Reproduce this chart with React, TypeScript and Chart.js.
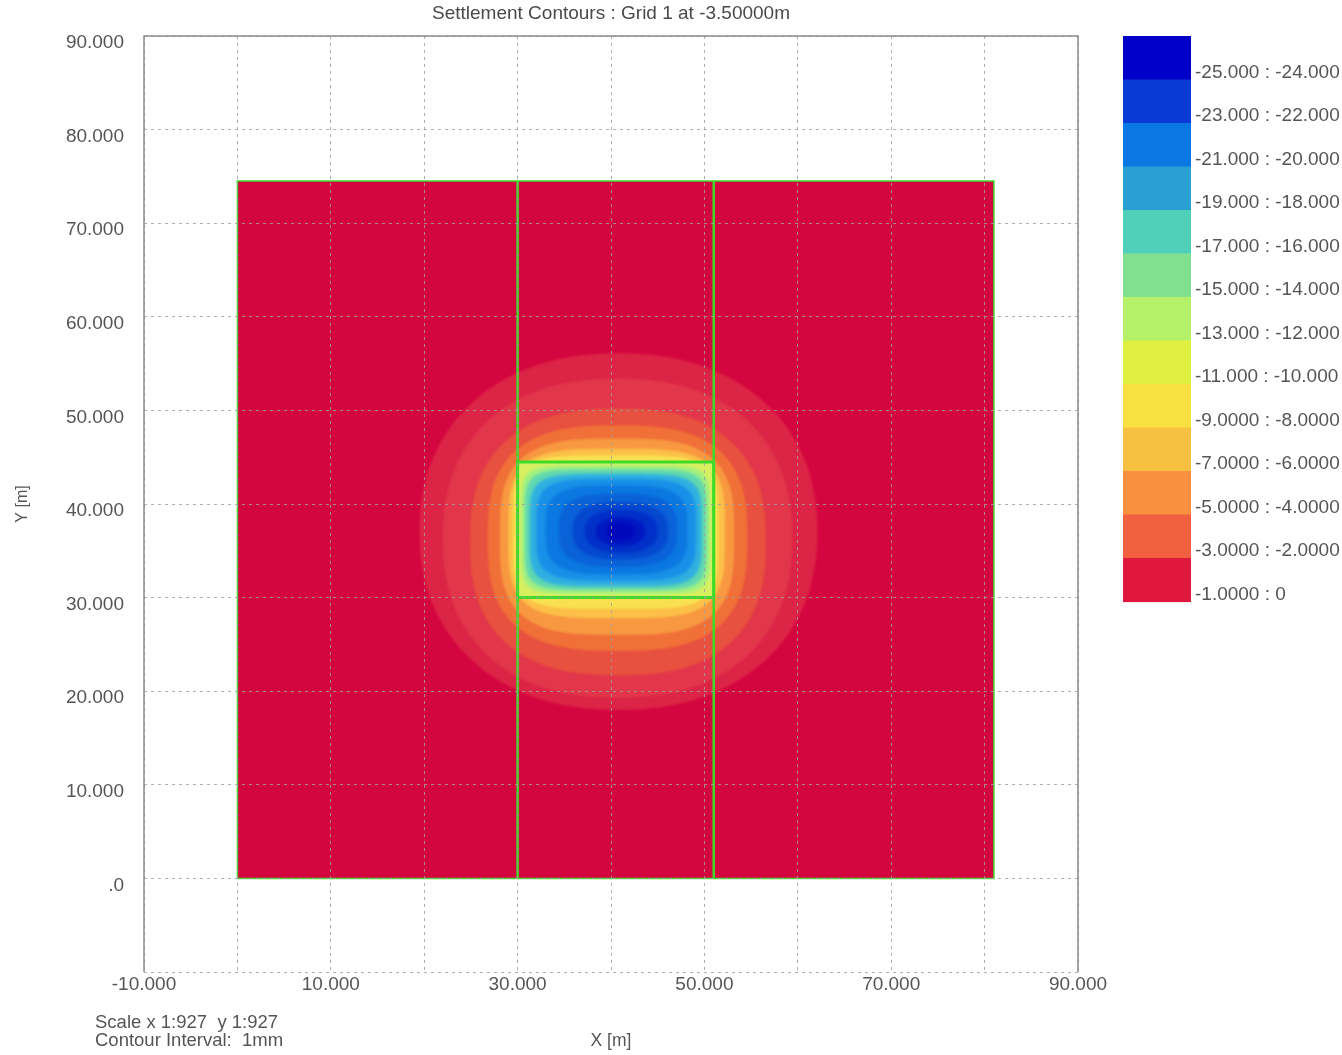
import React, { useEffect, useRef } from 'react';
import { Chart, registerables } from 'chart.js';

Chart.register(...registerables);

// ---------------- data ----------------
const chartTitle = 'Settlement Contours : Grid 1 at -3.50000m';
const xAxisTitle = 'X [m]';
const yAxisTitle = 'Y [m]';

const axisMin = -10;
const axisMax = 90;
const gridStep = 10;

const xTickValues = [-10, 10, 30, 50, 70, 90];
const xTickLabels = ['-10.000', '10.000', '30.000', '50.000', '70.000', '90.000'];
const yTickValues = [0, 10, 20, 30, 40, 50, 60, 70, 80, 90];
const yTickLabels = ['.0', '10.000', '20.000', '30.000', '40.000', '50.000', '60.000', '70.000', '80.000', '90.000'];

// model region, column strip and footing (m)
const regionX = [0, 81];
const regionY = [0, 74.5];
const columnX = [30, 51];
const footingX = [30, 51];
const footingY = [30, 44.5];

// settlement contour bands (mm), outermost first, extents (m)
const contourLevels = [-1, -2, -3, -4, -5, -6, -7, -8, -10, -12, -14, -16, -18, -20, -22, -23, -24, -25];
const contourXMin = [19.5, 22.0, 24.9, 26.8, 28.1, 29.0, 29.5, 30.0, 30.4, 30.8, 31.3, 32.0, 33.0, 34.4, 35.9, 37.2, 38.4, 39.5];
const contourXMax = [62.1, 59.4, 56.6, 54.6, 53.2, 52.2, 51.5, 51.0, 50.6, 50.2, 49.7, 49.1, 48.2, 47.1, 46.1, 45.0, 43.7, 42.6];
const contourYMin = [18.0, 19.3, 21.7, 24.3, 26.0, 27.8, 28.8, 30.0, 30.4, 30.8, 31.2, 31.8, 32.5, 33.3, 34.1, 34.8, 35.5, 36.1];
const contourYMax = [56.1, 53.4, 50.2, 48.4, 47.0, 45.9, 45.2, 44.5, 44.1, 43.7, 43.2, 42.7, 42.0, 41.1, 40.2, 39.4, 38.6, 38.0];
const contourColors = [
  '#dc2446', '#e2364a', '#e8503f', '#f07038', '#f89840', '#fcc048', '#f8e050',
  '#d8f060', '#a0f080', '#60d8b0', '#30b0e0', '#1890e8', '#0a78e0', '#0a62d8',
  '#0548d0', '#0030c8', '#0018c2', '#0008bc',
];
const regionFillColor = '#d4063f';

const legendLabels = [
  '-25.000 : -24.000', '-23.000 : -22.000', '-21.000 : -20.000', '-19.000 : -18.000',
  '-17.000 : -16.000', '-15.000 : -14.000', '-13.000 : -12.000', '-11.000 : -10.000',
  '-9.0000 : -8.0000', '-7.0000 : -6.0000', '-5.0000 : -4.0000', '-3.0000 : -2.0000',
  '-1.0000 : 0',
];
const legendColors = [
  '#0000c8', '#0a3ad6', '#0a78e2', '#2aa0d2', '#50d0b8', '#80e090', '#b4f068',
  '#e0f040', '#f8e040', '#f8c040', '#f89040', '#f06040', '#e01840',
];

const footnotes = ['Scale x 1:927  y 1:927', 'Contour Interval:  1mm'];

// ---------------- styles ----------------
const FONT = "'Liberation Sans', Arial, sans-serif";
const TEXT = '#555555';
const GREEN = '#3cdc28';
const FRAME = '#8c8c8c';
const contourShape = [2.2, 2.3, 2.5, 2.8, 3.2, 3.8, 4.6, 40, 7, 6, 5, 4.2, 3.5, 3.0, 2.6, 2.4, 2.2, 2.1];

function traceSuperellipse(ctx: CanvasRenderingContext2D, cx: number, cy: number, a: number, b: number, n: number) {
  const steps = 240;
  ctx.beginPath();
  for (let k = 0; k <= steps; k++) {
    const t = (k / steps) * Math.PI * 2;
    const c = Math.cos(t);
    const s = Math.sin(t);
    const px = cx + a * Math.sign(c) * Math.pow(Math.abs(c), 2 / n);
    const py = cy + b * Math.sign(s) * Math.pow(Math.abs(s), 2 / n);
    if (k === 0) ctx.moveTo(px, py);
    else ctx.lineTo(px, py);
  }
  ctx.closePath();
}

const contourPlugin = {
  id: 'contourField',
  beforeDatasetsDraw(chart: any) {
    const { ctx } = chart;
    const xs = chart.scales.x;
    const ys = chart.scales.y;
    const px = (v: number) => xs.getPixelForValue(v);
    const py = (v: number) => ys.getPixelForValue(v);
    ctx.save();
    const rx0 = px(regionX[0]);
    const rx1 = px(regionX[1]);
    const ry0 = py(regionY[1]);
    const ry1 = py(regionY[0]);
    ctx.beginPath();
    ctx.rect(rx0, ry0, rx1 - rx0, ry1 - ry0);
    ctx.fillStyle = regionFillColor;
    ctx.fill();
    ctx.clip();

    const fx0 = px(footingX[0]);
    const fx1 = px(footingX[1]);
    const fy0 = py(footingY[1]);
    const fy1 = py(footingY[0]);

    contourLevels.forEach((_lvl, i) => {
      const x0 = px(contourXMin[i]);
      const x1 = px(contourXMax[i]);
      const y0 = py(contourYMax[i]);
      const y1 = py(contourYMin[i]);
      const inside = contourXMin[i] >= footingX[0] && contourXMax[i] <= footingX[1] &&
        contourYMin[i] >= footingY[0] && contourYMax[i] <= footingY[1];
      ctx.save();
      if (inside) {
        ctx.beginPath();
        ctx.rect(fx0, fy0, fx1 - fx0, fy1 - fy0);
        ctx.clip();
        ctx.filter = i === 7 ? 'none' : 'blur(1.6px)';
      } else {
        ctx.filter = 'blur(1.2px)';
      }
      traceSuperellipse(ctx, (x0 + x1) / 2, (y0 + y1) / 2, (x1 - x0) / 2, (y1 - y0) / 2, contourShape[i]);
      ctx.fillStyle = contourColors[i];
      ctx.fill();
      ctx.restore();
    });
    ctx.restore();
  },
};

const overlayPlugin = {
  id: 'overlay',
  afterDraw(chart: any) {
    const { ctx, chartArea } = chart;
    ctx.save();
    // solid left / top / right frame
    ctx.strokeStyle = FRAME;
    ctx.lineWidth = 1.5;
    ctx.beginPath();
    ctx.moveTo(chartArea.left, chartArea.bottom);
    ctx.lineTo(chartArea.left, chartArea.top);
    ctx.lineTo(chartArea.right, chartArea.top);
    ctx.lineTo(chartArea.right, chartArea.bottom);
    ctx.stroke();

    // title, centred over the plot area
    ctx.font = `19px ${FONT}`;
    ctx.fillStyle = '#4a4a4a';
    ctx.textAlign = 'center';
    ctx.textBaseline = 'middle';
    ctx.fillText(chartTitle, (chartArea.left + chartArea.right) / 2, chartArea.top - 22);

    // colour legend
    const lx = chartArea.right + 45;
    const lw = 68;
    const lh = 43.5;
    const top = chartArea.top;
    legendColors.forEach((c, i) => {
      ctx.fillStyle = c;
      ctx.fillRect(lx, top + i * lh, lw, lh + 0.6);
    });
    ctx.font = `19px ${FONT}`;
    ctx.fillStyle = TEXT;
    ctx.textAlign = 'left';
    ctx.textBaseline = 'middle';
    legendLabels.forEach((t, i) => {
      ctx.fillText(t, lx + lw + 4, top + (i + 1) * lh - 7);
    });

    // footnotes
    ctx.font = `18.5px ${FONT}`;
    footnotes.forEach((t, i) => {
      ctx.fillText(t, 95, chartArea.bottom + 51 + i * 18);
    });
    ctx.restore();
  },
};

export default function App() {
  const ref = useRef<HTMLCanvasElement | null>(null);
  useEffect(() => {
    document.body.style.margin = '0';
    const canvas = ref.current;
    if (!canvas) return;

    const regionOutline = [
      { x: regionX[0], y: regionY[0] }, { x: regionX[1], y: regionY[0] },
      { x: regionX[1], y: regionY[1] }, { x: regionX[0], y: regionY[1] },
      { x: regionX[0], y: regionY[0] },
    ];
    const footingOutline = [
      { x: footingX[0], y: footingY[0] }, { x: footingX[1], y: footingY[0] },
      { x: footingX[1], y: footingY[1] }, { x: footingX[0], y: footingY[1] },
      { x: footingX[0], y: footingY[0] },
    ];
    const lineDefaults = {
      showLine: true, pointRadius: 0, borderColor: GREEN, fill: false, tension: 0,
    };
    const datasets: any[] = [
      { ...lineDefaults, label: 'Region', data: regionOutline, borderWidth: 1.5 },
      ...columnX.map((cx) => ({
        ...lineDefaults, label: 'Column', borderWidth: 2.5,
        data: [{ x: cx, y: regionY[0] }, { x: cx, y: regionY[1] }],
      })),
      { ...lineDefaults, label: 'Footing', data: footingOutline, borderWidth: 3 },
    ];

    const chart = new Chart(canvas, {
      type: 'scatter',
      data: { datasets },
      options: {
        responsive: false,
        animation: false,
        events: [],
        layout: { padding: { left: 0, right: 264, top: 36, bottom: 0 } },
        plugins: {
          legend: { display: false },
          tooltip: { enabled: false },
          title: { display: false },
        },
        scales: {
          x: {
            type: 'linear',
            min: axisMin,
            max: axisMax,
            afterFit: (s: any) => { s.height = 83; },
            ticks: {
              stepSize: gridStep,
              autoSkip: false,
              maxRotation: 0,
              padding: 1,
              color: TEXT,
              font: { family: FONT, size: 19 },
              callback: (v: any) => {
                const i = xTickValues.indexOf(Math.round(Number(v)));
                return i >= 0 ? xTickLabels[i] : '';
              },
            },
            grid: { color: 'rgba(160,160,160,0.85)', lineWidth: 1, drawTicks: false, z: 1 },
            border: { display: false, dash: [3, 4] },
            title: {
              display: true, text: xAxisTitle, color: TEXT,
              font: { family: FONT, size: 17.5 }, padding: { top: 3, bottom: 3 },
            },
          },
          y: {
            type: 'linear',
            min: axisMin,
            max: axisMax,
            afterFit: (s: any) => { s.width = 144; },
            ticks: {
              stepSize: gridStep,
              autoSkip: false,
              padding: 20,
              labelOffset: 7,
              color: TEXT,
              font: { family: FONT, size: 19 },
              callback: (v: any) => {
                const i = yTickValues.indexOf(Math.round(Number(v)));
                return i >= 0 ? yTickLabels[i] : '';
              },
            },
            grid: { color: 'rgba(160,160,160,0.85)', lineWidth: 1, drawTicks: false, z: 1 },
            border: { display: false, dash: [3, 4] },
            title: {
              display: true, text: yAxisTitle, color: TEXT,
              font: { family: FONT, size: 16 }, padding: { top: 13, bottom: 3 },
            },
          },
        },
      } as any,
      plugins: [contourPlugin, overlayPlugin],
    });
    return () => chart.destroy();
  }, []);

  return (
    <div style={{ width: 1342, height: 1055 }}>
      <canvas ref={ref} width={1342} height={1055} style={{ display: 'block' }} />
    </div>
  );
}
